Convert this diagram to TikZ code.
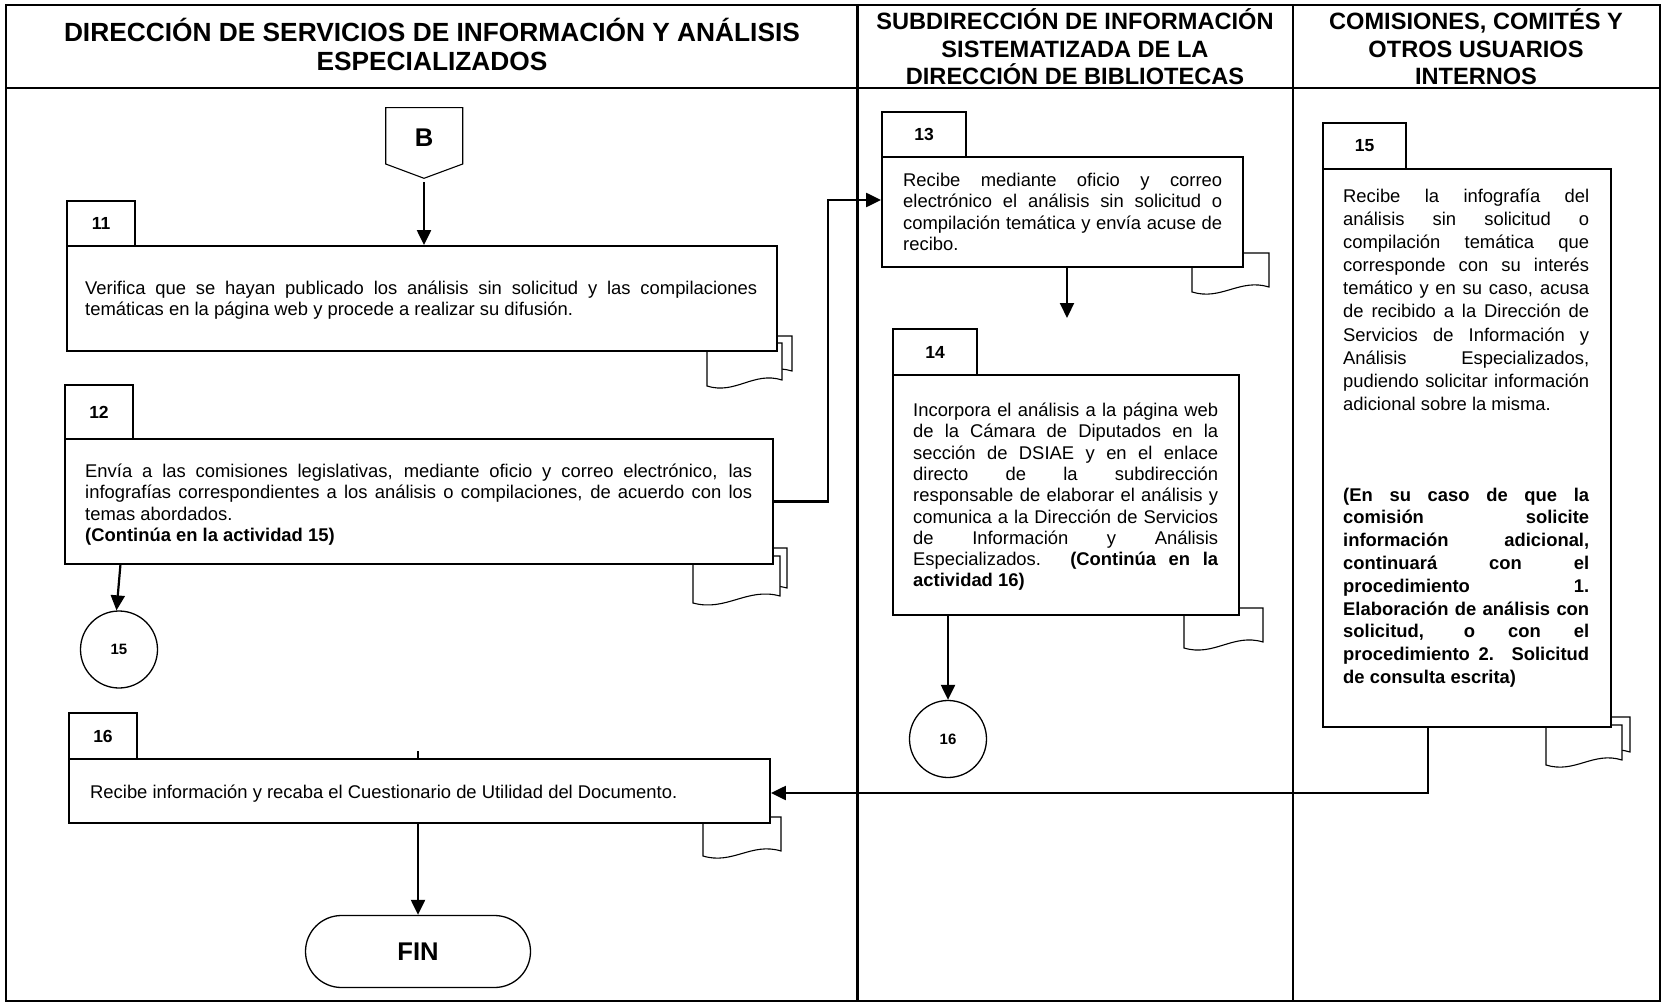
\documentclass[tikz,border=0pt]{standalone}
\usepackage{fontspec}
\setmainfont{Liberation Sans}
\usetikzlibrary{arrows.meta,calc}
% one justified line of a paragraph
\newcommand\jl[1]{\makebox[\linewidth][s]{#1}\\}
% document symbol: x-left, x-right, top, bottom-left, bottom-right
\newcommand\flowdoc[5]{%
  \path[docsym] (#1,#3) -- (#1,#4)
    .. controls ({#1+0.38*(#2-#1)},{#4+9}) and ({#1+0.62*(#2-#1)},{#5-9}) .. (#2,#5)
    -- (#2,#3) -- cycle;}
\begin{document}
\begin{tikzpicture}[x=1pt,y=-1pt,
  frameline/.style={line width=2.6pt},
  actbox/.style={draw, line width=1.8pt, fill=white, inner sep=0pt},
  tabbox/.style={draw, line width=1.1pt, fill=white, inner sep=0pt,
    font=\fontsize{17.5}{20}\selectfont\bfseries},
  docsym/.style={draw, line width=1.1pt, fill=white},
  flow/.style={line width=2.2pt, -{Triangle[length=15pt,width=14pt]}},
  conn/.style={draw, circle, line width=1.3pt, fill=white, inner sep=0pt,
    minimum size=77pt, font=\fontsize{15}{18}\selectfont\bfseries},
  body/.style={anchor=base west, inner sep=0pt, font=\fontsize{18.4}{21.3}\selectfont},
  head/.style={anchor=base, inner sep=0pt, font=\fontsize{23.6}{27.5}\selectfont\bfseries},
]
\useasboundingbox (0,0) rectangle (1663,1003);
\fill[white] (0,0) rectangle (1663,1003);

% lanes
\draw[frameline] (6,5) rectangle (1660,1001);
\draw[frameline] (6,88) -- (1660,88);
\draw[frameline] (857.5,5) -- (857.5,1001);
\draw[frameline] (1293,5) -- (1293,1001);

% lane headings
\node[head, font=\fontsize{26.3}{28.5}\selectfont\bfseries] (h1) at (432,42) {\parbox[t]{840pt}{\centering DIRECCIÓN DE SERVICIOS DE INFORMACIÓN Y ANÁLISIS\\ESPECIALIZADOS}};
\node[head] (h2) at (1075,30) {\parbox[t]{430pt}{\centering SUBDIRECCIÓN DE INFORMACIÓN\\SISTEMATIZADA DE LA\\DIRECCIÓN DE BIBLIOTECAS}};
\node[head] (h3) at (1476,30) {\parbox[t]{360pt}{\centering COMISIONES, COMITÉS Y\\OTROS USUARIOS\\INTERNOS}};

% off-page connector B
\draw[line width=1.1pt, fill=white] (385.7,107.7) -- (462.7,107.7) -- (462.7,164) -- (424,178.3) -- (385.7,164) -- cycle;
\node[inner sep=0pt, font=\fontsize{25.6}{28}\selectfont\bfseries] (B) at (424,138) {B};
\coordinate (Btip) at (424,178.3);

% document symbols behind the activity boxes
\flowdoc{715}{792}{336}{377}{371}
\flowdoc{707}{782}{343}{386}{380}
\flowdoc{701}{787}{548}{595}{588}
\flowdoc{693}{780}{556}{603}{596}
\flowdoc{1192}{1269}{253}{292}{287}
\flowdoc{1184}{1263}{608}{648}{642}
\flowdoc{1554}{1630}{717}{757}{752}
\flowdoc{1546}{1622}{725}{765}{760}
\flowdoc{703}{781}{817}{856}{851}

% activity tabs
\node[tabbox, minimum width=68pt, minimum height=45pt] (t11) at (101,223.5) {11};
\node[tabbox, minimum width=68pt, minimum height=54pt] (t12) at (99,412) {12};
\node[tabbox, minimum width=84pt, minimum height=45pt] (t13) at (924,134.5) {13};
\node[tabbox, minimum width=84pt, minimum height=46pt] (t14) at (935,352) {14};
\node[tabbox, minimum width=83pt, minimum height=46pt] (t15) at (1364.5,146) {15};
\node[tabbox, minimum width=68pt, minimum height=46pt] (t16) at (103,736) {16};

% activity boxes
\node[actbox, minimum width=710pt, minimum height=105pt] (b11) at (422,298.5) {};
\node[actbox, minimum width=708pt, minimum height=125pt] (b12) at (419,501.5) {};
\node[actbox, minimum width=361pt, minimum height=110pt] (b13) at (1062.5,212) {};
\node[actbox, minimum width=346pt, minimum height=240pt] (b14) at (1066,495) {};
\node[actbox, minimum width=288pt, minimum height=558pt] (b15) at (1467,448) {};
\node[actbox, minimum width=701pt, minimum height=64pt] (b16) at (419.5,791) {};

% activity texts
\node[body] (x11) at (85,294.5) {\parbox[t]{672pt}{%
\jl{Verifica que se hayan publicado los análisis sin solicitud y las compilaciones}%
temáticas en la página web y procede a realizar su difusión.}};

\node[body] (x12) at (85,477.5) {\parbox[t]{667pt}{%
\jl{Envía a las comisiones legislativas, mediante oficio y correo electrónico, las}%
\jl{infografías correspondientes a los análisis o compilaciones, de acuerdo con los}%
temas abordados.\\
\textbf{(Continúa en la actividad 15)}}};

\node[body] (x13) at (903,186.5) {\parbox[t]{319pt}{%
\jl{Recibe mediante oficio y correo}%
\jl{electrónico el análisis sin solicitud o}%
\jl{compilación temática y envía acuse de}%
recibo.}};

\node[body] (x14) at (913,416.5) {\parbox[t]{305pt}{%
\jl{Incorpora el análisis a la página web}%
\jl{de la Cámara de Diputados en la}%
\jl{sección de DSIAE y en el enlace}%
\jl{directo de la subdirección}%
\jl{responsable de elaborar el análisis y}%
\jl{comunica a la Dirección de Servicios}%
\jl{de Información y Análisis}%
\jl{Especializados. \textbf{(Continúa en la}}%
\textbf{actividad 16)}}};

\node[body] (x15) at (1343,202.5) {\parbox[t]{246pt}{%
\fontsize{18.4}{23.1}\selectfont
\jl{Recibe la infografía del}%
\jl{análisis sin solicitud o}%
\jl{compilación temática que}%
\jl{corresponde con su interés}%
\jl{temático y en su caso, acusa}%
\jl{de recibido a la Dirección de}%
\jl{Servicios de Información y}%
\jl{Análisis Especializados,}%
\jl{pudiendo solicitar información}%
adicional sobre la misma.\par
\vspace{68pt}
\fontsize{18.4}{22.8}\selectfont\bfseries
\jl{(En su caso de que la}%
\jl{comisión solicite}%
\jl{información adicional,}%
\jl{continuará con el}%
\jl{procedimiento 1.}%
\jl{Elaboración de análisis con}%
\jl{solicitud, o con el}%
\jl{procedimiento 2. Solicitud}%
de consulta escrita)}};

\node[body] (x16) at (90,798.5) {Recibe información y recaba el Cuestionario de Utilidad del Documento.};

% connectors
\node[conn] (c15) at (119,649.5) {15};
\node[conn] (c16) at (948,739) {16};
\node[draw, line width=1.3pt, fill=white, rounded corners=36pt, minimum width=225pt,
  minimum height=72pt, inner sep=0pt, font=\fontsize{25.6}{28}\selectfont\bfseries] (fin) at (418,951.5) {FIN};

\coordinate (j1) at (828,200);
\coordinate (j2) at (1427.7,793);
\coordinate (a14) at (1067,318);
\coordinate (a12) at (120.5,564);
\coordinate (stub) at (418,751);

% flow lines
\draw[flow] ($(Btip)+(0,4)$) -- (Btip |- b11.north);
\draw[flow] (b12.east) -| (j1) -- (j1 -| b13.west);
\draw[flow] (a12) -- ($(c15.north)+(-2.5,0)$);
\draw[flow] (b13.south -| a14) -- (a14);
\draw[flow] (b14.south -| c16) -- (c16.north);
\draw[flow] (b15.south -| j2) -- (j2) -- (j2 -| b16.east);
\draw[line width=1.1pt] (stub) -- (stub |- b16.north);
\draw[flow] (b16.south -| fin) -- (fin.north);
\end{tikzpicture}
\end{document}
